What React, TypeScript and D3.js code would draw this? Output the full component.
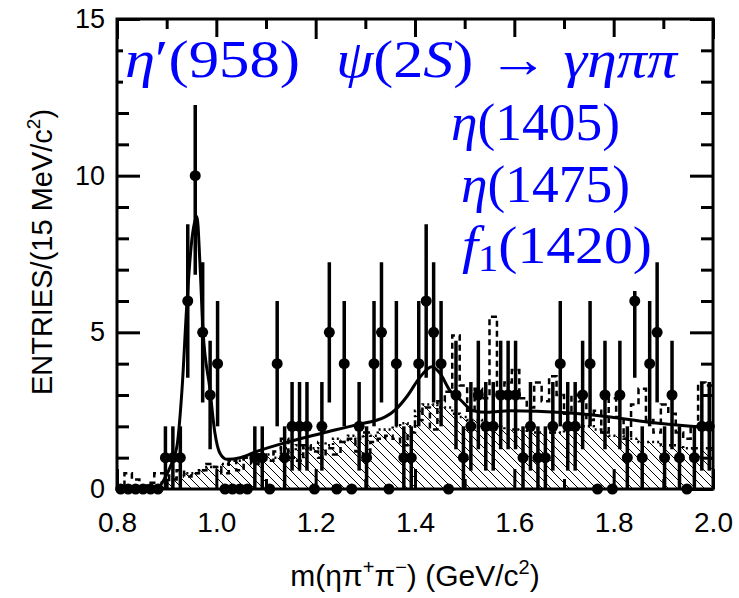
import { useEffect, useRef } from "react";
import * as d3 from "d3";

// 80 bins of 15 MeV from 0.80 to 2.00 GeV
const binLo = 0.8;
const binWidth = 0.015;
const counts = [
  0, 0, 0, 0, 0, 0, 1, 1, 1, 6,
  10, 5, 3, 4, 0, 0, 0, 0, 1, 1,
  0, 4, 1, 2, 2, 2, 0, 2, 5, 0,
  4, 0, 2, 1, 4, 5, 0, 4, 1, 1,
  4, 6, 5, 4, 0, 3, 1, 2, 3, 2,
  2, 3, 3, 3, 1, 2, 1, 1, 2, 4,
  2, 2, 3, 4, 0, 3, 0, 3, 1, 6,
  1, 4, 5, 1, 3, 1, 0, 1, 2, 2,
];

// hatched background (dotted outline)
const bkgHatched = [
  0, 0, 0, 0, 0, 0, 0.2, 0.3, 0.4, 0.5,
  0.5, 0.6, 0.7, 0.7, 0.8, 0.9, 0.9, 1.0, 1.0, 1.1,
  1.1, 1.0, 1.3, 1.2, 1.4, 1.3, 1.3, 1.5, 1.4, 1.6,
  1.5, 1.7, 1.6, 1.8, 1.7, 1.9, 1.9, 2.0, 2.1, 2.0,
  2.5, 2.7, 2.7, 2.6, 2.6, 2.4, 2.3, 2.2, 2.2, 2.1,
  2.0, 2.0, 1.9, 1.9, 1.9, 1.8, 1.8, 1.8, 1.8, 1.8,
  1.9, 1.9, 2.0, 2.0, 1.9, 1.8, 1.7, 1.7, 1.6, 1.6,
  1.5, 1.5, 1.5, 1.4, 1.4, 1.4, 1.3, 1.3, 1.3, 1.3,
];

// dashed histogram
const bkgDashed = [
  0, 0.5, 0.3, 0, 0.2, 0.5, 0.5, 0.3, 0.6, 0.4,
  0.5, 0.6, 0.8, 0.7, 0.5, 0.9, 0.6, 1.0, 0.8, 1.1,
  0.9, 1.2, 1.6, 1.0, 0.9, 1.4, 1.2, 1.0, 1.3, 1.1,
  1.5, 1.6, 1.2, 1.1, 1.5, 1.6, 1.7, 1.6, 1.4, 1.8,
  2.2, 2.6, 1.9, 2.8, 3.1, 4.9, 3.3, 2.5, 3.2, 2.9,
  5.5, 3.0, 3.4, 3.8, 2.9, 2.6, 3.4, 2.8, 3.6, 3.0,
  2.4, 3.0, 2.8, 2.2, 2.5, 1.8, 2.9, 2.3, 1.6, 2.7,
  3.2, 2.2, 1.8, 2.7, 2.4, 1.8, 1.6, 2.0, 3.4, 3.3,
];

// total fit curve
const fitMass = [0.887, 0.907, 0.921, 0.931, 0.941, 0.951, 0.961, 0.967, 0.973, 0.987, 0.997, 1.007, 1.021, 1.048, 1.078, 1.144, 1.213, 1.279, 1.34, 1.362, 1.386, 1.41, 1.434, 1.45, 1.47, 1.491, 1.517, 1.545, 1.591, 1.706, 1.793, 1.867, 1.974, 2.0];
const fitValue = [0.1, 0.7, 1.4, 3.2, 6.0, 8.0, 8.7, 7.2, 5.1, 3.2, 1.8, 1.15, 0.95, 1.0, 1.18, 1.5, 1.78, 2.04, 2.3, 2.55, 3.0, 3.57, 3.9, 3.7, 3.15, 2.85, 2.5, 2.45, 2.5, 2.43, 2.3, 2.14, 1.98, 1.95];

const xMajor = [0.8, 1.0, 1.2, 1.4, 1.6, 1.8, 2.0];
const xMinor = [0.9, 1.1, 1.3, 1.5, 1.7, 1.9];
const yMajor = [0, 5, 10, 15];
const yMinor = [1, 2, 3, 4, 6, 7, 8, 9, 11, 12, 13, 14];

const W = 739, H = 598;
const blue = "#0000ff";
const sans = "'Liberation Sans', Arial, sans-serif";

export default function App() {
  const svgRef = useRef<SVGSVGElement>(null);

  useEffect(() => {
    const svg = d3.select(svgRef.current);
    svg.selectAll("*").remove();

    const x = d3.scaleLinear().domain([0.8, 2.0]).range([117, 713]);
    const y = d3.scaleLinear().domain([0, 15]).range([489, 19]);

    const defs = svg.append("defs");
    defs.append("pattern")
      .attr("id", "hatch")
      .attr("patternUnits", "userSpaceOnUse")
      .attr("width", 9)
      .attr("height", 9)
      .append("path")
      .attr("d", "M0,0 L9,9 M-1,8 L1,10 M8,-1 L10,1")
      .attr("stroke", "black")
      .attr("stroke-width", 1);

    const plot = svg.append("g");

    const stepData = (vals: number[]) => {
      const pts = vals.map((v, i) => [binLo + i * binWidth, v] as [number, number]);
      pts.push([binLo + vals.length * binWidth, vals[vals.length - 1]]);
      return pts;
    };

    // hatched background
    const area = d3.area<[number, number]>()
      .x(d => x(d[0]))
      .y0(y(0))
      .y1(d => y(d[1]))
      .curve(d3.curveStepAfter);
    plot.append("path")
      .attr("d", area(stepData(bkgHatched)))
      .attr("fill", "url(#hatch)");

    const stepLine = d3.line<[number, number]>()
      .x(d => x(d[0]))
      .y(d => y(d[1]))
      .curve(d3.curveStepAfter);

    plot.append("path")
      .attr("d", stepLine(stepData(bkgHatched)))
      .attr("fill", "none")
      .attr("stroke", "black")
      .attr("stroke-width", 2.5)
      .attr("stroke-dasharray", "2,3");

    plot.append("path")
      .attr("d", stepLine(stepData(bkgDashed)))
      .attr("fill", "none")
      .attr("stroke", "black")
      .attr("stroke-width", 2.5)
      .attr("stroke-dasharray", "6,4");

    // fit
    const fitLine = d3.line<number>()
      .x((d, i) => x(fitMass[i]))
      .y(d => y(d))
      .curve(d3.curveMonotoneX);
    plot.append("path")
      .attr("d", fitLine(fitValue))
      .attr("fill", "none")
      .attr("stroke", "black")
      .attr("stroke-width", 3);

    // data points
    const pts = counts.map((n, i) => ({ m: binLo + (i + 0.5) * binWidth, n }));
    plot.selectAll(".err")
      .data(pts.filter(d => d.n > 0))
      .join("line")
      .attr("class", "err")
      .attr("x1", d => x(d.m))
      .attr("x2", d => x(d.m))
      .attr("y1", d => y(d.n - Math.sqrt(d.n)))
      .attr("y2", d => y(d.n + Math.sqrt(d.n)))
      .attr("stroke", "black")
      .attr("stroke-width", 3.5);
    plot.selectAll(".pt")
      .data(pts)
      .join("circle")
      .attr("class", "pt")
      .attr("cx", d => x(d.m))
      .attr("cy", d => y(d.n))
      .attr("r", 5.5)
      .attr("fill", "black");

    // ticks
    const tickStyle = (size: number) => (g: any) => {
      g.select(".domain").remove();
      g.selectAll("line").attr("stroke", "black").attr("stroke-width", 3);
      g.selectAll("text")
        .attr("font-family", sans)
        .attr("font-size", size)
        .attr("fill", "black");
    };
    svg.append("g").attr("transform", `translate(0,${y(0)})`)
      .call(d3.axisBottom(x).tickValues(xMajor).tickSize(-20).tickPadding(23).tickFormat(d3.format(".1f")))
      .call(tickStyle(28));
    svg.append("g").attr("transform", `translate(0,${y(0)})`)
      .call(d3.axisBottom(x).tickValues(xMinor).tickSize(-10).tickFormat(() => ""))
      .call(tickStyle(28));
    svg.append("g").attr("transform", `translate(0,${y(15)})`)
      .call(d3.axisTop(x).tickValues(xMajor).tickSize(-20).tickFormat(() => ""))
      .call(tickStyle(28));
    svg.append("g").attr("transform", `translate(0,${y(15)})`)
      .call(d3.axisTop(x).tickValues(xMinor).tickSize(-10).tickFormat(() => ""))
      .call(tickStyle(28));
    svg.append("g").attr("transform", `translate(${x(0.8)},0)`)
      .call(d3.axisLeft(y).tickValues(yMajor).tickSize(-23).tickPadding(12).tickFormat(d3.format("d")))
      .call(tickStyle(27));
    svg.append("g").attr("transform", `translate(${x(0.8)},0)`)
      .call(d3.axisLeft(y).tickValues(yMinor).tickSize(-12).tickFormat(() => ""))
      .call(tickStyle(27));
    svg.append("g").attr("transform", `translate(${x(2.0)},0)`)
      .call(d3.axisRight(y).tickValues(yMajor).tickSize(-23).tickFormat(() => ""))
      .call(tickStyle(27));
    svg.append("g").attr("transform", `translate(${x(2.0)},0)`)
      .call(d3.axisRight(y).tickValues(yMinor).tickSize(-12).tickFormat(() => ""))
      .call(tickStyle(27));

    // labels in blue with white boxes
    const labels = svg.append("g");
    const addLabel = (x0: number, base: number, len: number, parts: [string, string][]) => {
      const box = labels.append("rect").attr("fill", "white");
      const t = labels.append("text")
        .attr("x", x0)
        .attr("y", base)
        .attr("font-family", "'Liberation Serif', 'Times New Roman', serif")
        .attr("font-size", 53)
        .attr("fill", blue)
        .attr("textLength", len)
        .attr("lengthAdjust", "spacingAndGlyphs");
      parts.forEach(([txt, kind]) => {
        const s = t.append("tspan").text(txt);
        if (kind === "i") s.attr("font-style", "italic");
        if (kind === "sub") s.attr("font-size", 37).attr("dy", 8);
        if (kind === "up") s.attr("dy", -8);
      });
      box.attr("x", x0 - 2).attr("y", base - 40).attr("width", len + 4).attr("height", 68);
    };
    addLabel(125, 77, 175, [["η", "i"], ["′", ""], ["(958)", ""]]);
    addLabel(336, 77, 341, [["ψ", "i"], ["(2", ""], ["S", "i"], [") → ", ""], ["γηππ", "i"]]);
    addLabel(451, 140, 169, [["η", "i"], ["(1405)", ""]]);
    addLabel(461, 202, 169, [["η", "i"], ["(1475)", ""]]);
    addLabel(462, 263, 190, [["f", "i"], ["1", "sub"], ["(1420)", "up"]]);

    // frame
    svg.append("rect")
      .attr("x", x(0.8)).attr("y", y(15))
      .attr("width", x(2.0) - x(0.8)).attr("height", y(0) - y(15))
      .attr("fill", "none").attr("stroke", "black").attr("stroke-width", 3);

    // axis titles
    const xt = svg.append("text")
      .attr("x", 415).attr("y", 586)
      .attr("text-anchor", "middle")
      .attr("font-family", sans)
      .attr("font-size", 30);
    xt.append("tspan").text("m(ηπ");
    xt.append("tspan").text("+").attr("font-size", 20).attr("dy", -12);
    xt.append("tspan").text("π").attr("dy", 12);
    xt.append("tspan").text("−").attr("font-size", 20).attr("dy", -12);
    xt.append("tspan").text(") (GeV/c").attr("dy", 12);
    xt.append("tspan").text("2").attr("font-size", 20).attr("dy", -12);
    xt.append("tspan").text(")").attr("dy", 12);

    const yt = svg.append("text")
      .attr("transform", "rotate(-90)")
      .attr("x", -252).attr("y", 52)
      .attr("text-anchor", "middle")
      .attr("font-family", sans)
      .attr("font-size", 29);
    yt.append("tspan").text("ENTRIES/(15 MeV/c");
    yt.append("tspan").text("2").attr("font-size", 19).attr("dy", -12);
    yt.append("tspan").text(")").attr("dy", 12);
  }, []);

  return (
    <svg
      ref={svgRef}
      width={W}
      height={H}
      style={{ position: "absolute", left: 0, top: 0, background: "white" }}
    />
  );
}
